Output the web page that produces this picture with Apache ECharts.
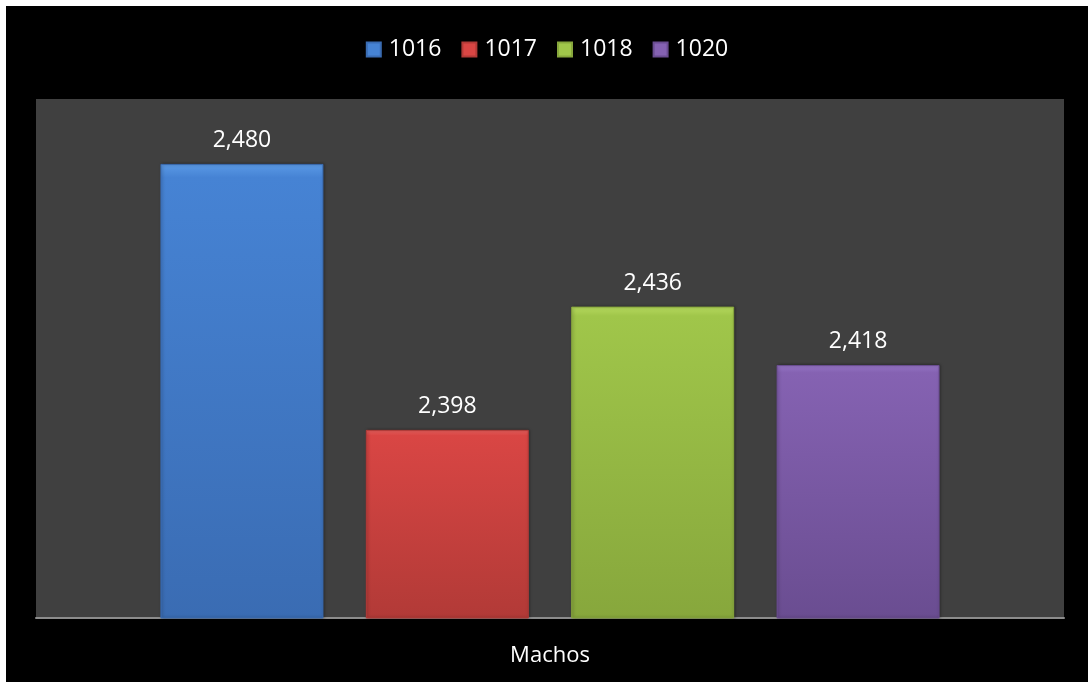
<!DOCTYPE html>
<html>
<head>
<meta charset="utf-8">
<script src="https://cdn.jsdelivr.net/npm/echarts@6/dist/echarts.min.js"></script>
<style>
  html, body { margin: 0; padding: 0; background: #ffffff; }
  #chart { position: absolute; left: 6px; top: 6px; width: 1082px; height: 676px; background: #000000; }
</style>
</head>
<body>
<div id="chart"></div>
<script>
var categories = ['Machos']
var seriesNames = ['1016', '1017', '1018', '1020']
var seriesValues = [[2480], [2398], [2436], [2418]]
var yMin = 2340
var yMax = 2500

// top, middle, bottom colours of each bar
var barColors = [
  ['#5b9ae6', '#4683d4', '#3a6cb3'],
  ['#e8605d', '#d94644', '#b23a37'],
  ['#b6d95e', '#a0c64a', '#87a73c'],
  ['#9675c6', '#8562b2', '#6a4d91']
]

function barFill (c) {
  return new echarts.graphic.LinearGradient(0, 0, 0, 1, [
    { offset: 0, color: c[0] },
    { offset: 0.03, color: c[1] },
    { offset: 1, color: c[2] }
  ])
}

var chart = echarts.init(document.getElementById('chart'))

var series = seriesNames.map(function (name, i) {
  return {
    name: name,
    type: 'bar',
    data: seriesValues[i],
    barWidth: 163,
    barGap: '26%',
    itemStyle: {
      color: barFill(barColors[i]),
      borderColor: barColors[i][2],
      borderWidth: 1,
      shadowColor: 'rgba(0,0,0,0.35)',
      shadowBlur: 3,
      shadowOffsetX: 1
    },
    label: {
      show: true,
      position: 'top',
      distance: 12,
      color: '#ffffff',
      fontFamily: 'Open Sans',
      fontSize: 23,
      formatter: function (p) {
        return p.value.toLocaleString('en-US')
      }
    }
  }
})

chart.setOption({
  backgroundColor: '#000000',
  animation: false,
  legend: {
    top: 27,
    left: 'center',
    itemWidth: 14,
    itemHeight: 14,
    itemGap: 20,
    icon: 'rect',
    textStyle: { color: '#ffffff', fontFamily: 'Open Sans', fontSize: 23, padding: [0, 0, 0, 3] },
    data: seriesNames.map(function (n, i) {
      return { name: n, itemStyle: { color: barColors[i][1] } }
    })
  },
  grid: {
    left: 30,
    right: 24,
    top: 93,
    bottom: 64,
    show: true,
    backgroundColor: '#404040',
    borderWidth: 0
  },
  xAxis: {
    type: 'category',
    data: categories,
    axisLine: { show: true, lineStyle: { color: '#8c8c8c', width: 2 } },
    axisTick: { show: false },
    axisLabel: { color: '#ffffff', fontFamily: 'Open Sans', fontSize: 22, margin: 27 }
  },
  yAxis: {
    type: 'value',
    min: yMin,
    max: yMax,
    show: false,
    splitLine: { show: false }
  },
  series: series
})
</script>
</body>
</html>
